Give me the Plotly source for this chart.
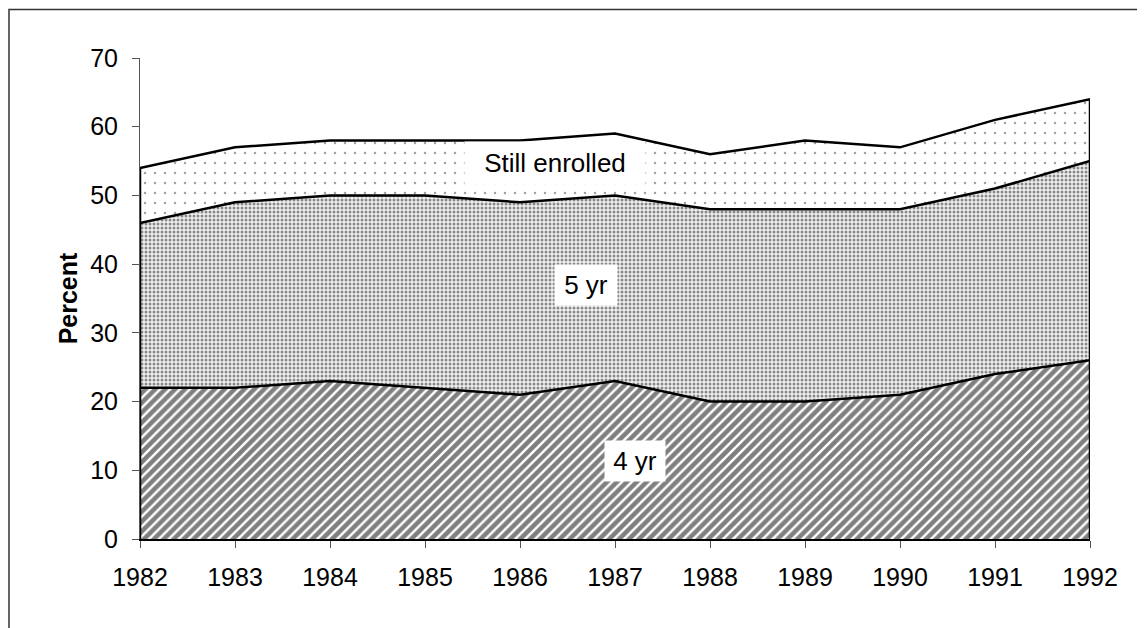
import plotly.graph_objects as go

years = [1982, 1983, 1984, 1985, 1986, 1987, 1988, 1989, 1990, 1991, 1992]
four_yr = [22, 22, 23, 22, 21, 23, 20, 20, 21, 24, 26]
five_yr = [24, 27, 27, 28, 28, 27, 28, 28, 27, 27, 29]
still_enrolled = [8, 8, 8, 8, 9, 9, 8, 10, 9, 10, 9]
y_ticks = [0, 10, 20, 30, 40, 50, 60, 70]

totals = [a + b + c for a, b, c in zip(four_yr, five_yr, still_enrolled)]

FONT = "Liberation Sans, Arial, sans-serif"

fig = go.Figure()

fig.add_trace(go.Scatter(
    x=years, y=four_yr, name="4 yr", mode="lines", stackgroup="one",
    line=dict(color="black", width=2.5),
    fillpattern=dict(shape="/", fgcolor="black", bgcolor="white", size=7, solidity=0.65),
))
fig.add_trace(go.Scatter(
    x=years, y=five_yr, name="5 yr", mode="lines", stackgroup="one",
    line=dict(color="black", width=2.5),
    fillpattern=dict(shape=".", fgcolor="#222222", bgcolor="#f0f0f0", size=4, solidity=0.45),
))
fig.add_trace(go.Scatter(
    x=years, y=still_enrolled, name="Still enrolled", mode="lines", stackgroup="one",
    line=dict(color="black", width=2.5),
    fillpattern=dict(shape=".", fgcolor="#444444", bgcolor="white", size=10, solidity=0.05),
))

# vertical edges of the stacked area at both ends
fig.add_trace(go.Scatter(x=[years[0], years[0]], y=[0, totals[0]], mode="lines",
                         line=dict(color="black", width=2.5), hoverinfo="skip"))
fig.add_trace(go.Scatter(x=[years[-1], years[-1]], y=[0, totals[-1]], mode="lines",
                         line=dict(color="black", width=2.5), hoverinfo="skip"))

labels = [
    ("Still enrolled", 1986.37, 54.7, 172, 34),
    ("5 yr", 1986.69, 36.9, 54, 32),
    ("4 yr", 1987.21, 11.4, 52, 32),
]
for text, x, y, w, h in labels:
    fig.add_annotation(x=x, y=y, text=text, showarrow=False, bgcolor="white",
                       width=w, height=h, borderpad=4,
                       font=dict(family=FONT, size=26, color="black"))

# outer chart frame
fig.add_shape(type="rect", xref="paper", yref="paper",
              x0=-0.1379, x1=1.2, y0=-0.3, y1=1.101,
              line=dict(color="#333333", width=1.5), fillcolor="rgba(0,0,0,0)", layer="below")

fig.update_layout(
    width=1145, height=628,
    margin=dict(l=132, r=63, t=50, b=97),
    paper_bgcolor="white", plot_bgcolor="white",
    showlegend=False,
    font=dict(family=FONT, size=25, color="black"),
    xaxis=dict(range=[1982, 1992], tickmode="array", tickvals=years,
               ticktext=[str(y) for y in years],
               showgrid=False, zeroline=False, showline=True, linecolor="black", linewidth=2,
               ticks="outside", ticklen=7, tickcolor="#555555", tickwidth=1,
               ticklabelstandoff=8),
    yaxis=dict(range=[0, 70], tickmode="array", tickvals=y_ticks,
               showgrid=False, zeroline=False, showline=True, linecolor="#555555", linewidth=1,
               ticks="outside", ticklen=7, tickcolor="#555555", tickwidth=1,
               ticklabelstandoff=9,
               title=dict(text="<b>Percent</b>", standoff=5,
                          font=dict(family=FONT, size=25, color="black"))),
)

fig.write_html("out.html")
